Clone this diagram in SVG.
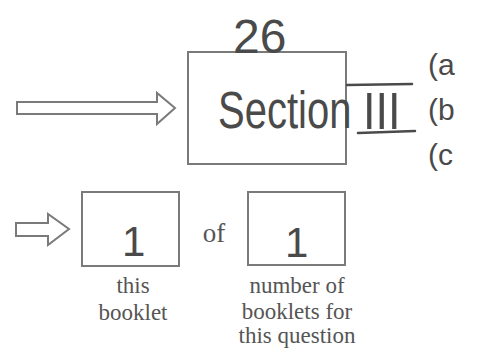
<svg xmlns="http://www.w3.org/2000/svg" width="477" height="348" viewBox="0 0 477 348">
<style>
.box{fill:none;stroke:#7a7a7a;stroke-width:2}
.arrow{fill:#fff;stroke:#7a7a7a;stroke-width:2;stroke-linejoin:miter}
.hand{font-family:"Liberation Sans","DejaVu Sans",sans-serif;fill:#4a4a4a}
.print{font-family:"Liberation Serif","Times New Roman",serif;fill:#555;text-anchor:middle}
.hline{stroke:#4a4a4a;stroke-width:2.5;stroke-linecap:round;fill:none}
</style>
<rect width="477" height="348" fill="#fff"/>
<g id="connectors">
<path class="arrow" d="M17,102 L157,102 L157,93 L175,108 L157,124 L157,114 L17,114 Z"/>
<path class="arrow" d="M16,223 L48,223 L48,214 L69,229 L48,245 L48,236 L16,236 Z"/>
</g>
<g id="section-box">
<rect class="box" x="188" y="52" width="158" height="112"/>
<text class="hand" x="233" y="53" font-size="48">26</text>
<text class="hand" transform="translate(218,128) scale(1,1.3)" font-size="40">Section</text>
<path class="hline" d="M347,85 L412,84"/>
<path class="hline" d="M358,133 L415,131"/>
<text class="hand" transform="translate(363,129) scale(1,1.15)" font-size="45">III</text>
<text class="hand" x="428" y="75" font-size="30">(a</text>
<text class="hand" x="428" y="120" font-size="30">(b</text>
<text class="hand" x="428" y="165" font-size="30">(c</text>
</g>
<g id="this-booklet">
<rect class="box" x="82" y="192" width="97" height="74"/>
<text class="hand" x="122" y="256" font-size="42" font-weight="300">1</text>
<text class="print" x="133" y="293" font-size="23">this</text>
<text class="print" x="133" y="320" font-size="23">booklet</text>
</g>
<text class="print" x="214" y="242" font-size="27">of</text>
<g id="number-of-booklets">
<rect class="box" x="248" y="192" width="97" height="73"/>
<text class="hand" x="285" y="257" font-size="42" font-weight="300">1</text>
<text class="print" x="297" y="293" font-size="23">number of</text>
<text class="print" x="297" y="319" font-size="23">booklets for</text>
<text class="print" x="297" y="343" font-size="23">this question</text>
</g>
</svg>
